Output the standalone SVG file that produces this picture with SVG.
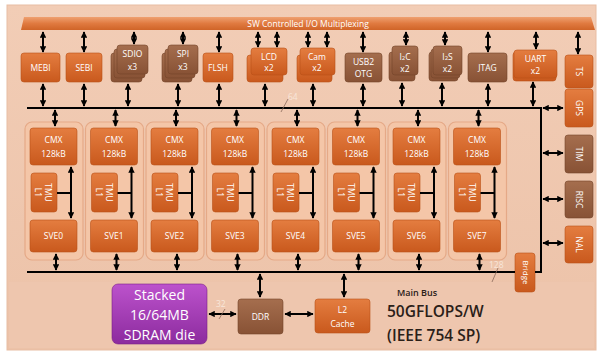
<svg xmlns="http://www.w3.org/2000/svg" width="602" height="355" viewBox="0 0 602 355">
<defs>
<linearGradient id="gO" x1="0" y1="0" x2="0" y2="1"><stop offset="0" stop-color="#E47D40"/><stop offset="1" stop-color="#C9591D"/></linearGradient>
<linearGradient id="gB" x1="0" y1="0" x2="0" y2="1"><stop offset="0" stop-color="#A56E4E"/><stop offset="1" stop-color="#885235"/></linearGradient>
<linearGradient id="gP" x1="0" y1="0" x2="0" y2="1"><stop offset="0" stop-color="#BC52CC"/><stop offset="1" stop-color="#8C2B9E"/></linearGradient>
<linearGradient id="gBan" x1="0" y1="0" x2="0" y2="1"><stop offset="0" stop-color="#EFA070"/><stop offset="0.5" stop-color="#E07A40"/><stop offset="1" stop-color="#D06428"/></linearGradient>
<linearGradient id="gPanel" x1="0" y1="0" x2="0" y2="1"><stop offset="0" stop-color="#F2CDB6"/><stop offset="1" stop-color="#ECC2A8"/></linearGradient>
<marker id="ah" viewBox="0 0 10 10" refX="9" refY="5" markerWidth="3.2" markerHeight="3.2" orient="auto-start-reverse" markerUnits="strokeWidth"><path d="M0,0 L10,5 L0,10 z" fill="#000"/></marker>
</defs>
<style>
.o{fill:url(#gO);stroke:#B85018;stroke-width:0.6}
.b{fill:url(#gB);stroke:#74442A;stroke-width:0.6}
.grp{fill:#F4C6A8;stroke:#E5A987;stroke-width:1.2}
.t{font-family:"Open Sans","Liberation Sans",sans-serif;font-size:8.5px;fill:#fff;text-anchor:middle}
.big{font-size:14px}
.sm{font-size:8px}
.w{stroke:#000;stroke-width:2;fill:none}
.a{stroke:#000;stroke-width:2;fill:none;marker-start:url(#ah);marker-end:url(#ah)}
.thin{stroke:#8A6A5A;stroke-width:0.8;fill:none}
.lt{font-family:"Open Sans","Liberation Sans",sans-serif;font-size:8.5px;fill:#F8E6DA}
.dk{font-family:"Open Sans","Liberation Sans",sans-serif;font-weight:600;fill:#2A2018}
</style>
<rect x="0" y="0" width="602" height="355" fill="#fff"/>
<rect x="7" y="5" width="589" height="345" fill="url(#gPanel)" stroke="#E8BDA3" stroke-width="1"/>
<rect x="9" y="282" width="585" height="66" fill="#EEC6AE"/>

<g id="banner">
<path d="M24,17 L591,17 L595,30 L21,30 Z" fill="url(#gBan)"/>
<text class="t" x="308" y="27">SW Controlled I/O Multiplexing</text>
</g>

<g id="mebi"><rect class="o" x="21" y="53" width="39" height="29" rx="3"/><text class="t" x="40.5" y="71">MEBI</text></g>
<g id="sebi"><rect class="o" x="66" y="53" width="36" height="29" rx="3"/><text class="t" x="84" y="71">SEBI</text></g>
<g id="sdio"><rect class="b" x="111" y="53" width="31" height="29" rx="3"/><rect class="b" x="114" y="49" width="31" height="29" rx="3"/><rect class="b" x="117" y="45" width="31" height="29" rx="3"/><text class="t" x="132.5" y="57">SDIO</text><text class="t" x="132.5" y="70">x3</text></g>
<g id="spi"><rect class="b" x="162" y="53" width="30" height="29" rx="3"/><rect class="b" x="165" y="49" width="30" height="29" rx="3"/><rect class="b" x="168" y="45" width="30" height="29" rx="3"/><text class="t" x="183" y="57">SPI</text><text class="t" x="183" y="70">x3</text></g>
<g id="flsh"><rect class="o" x="203" y="53" width="30" height="29" rx="3"/><text class="t" x="218" y="71">FLSH</text></g>
<g id="lcd"><rect class="o" x="247" y="55" width="36" height="27" rx="3"/><rect class="o" x="251" y="48" width="36" height="27" rx="3"/><text class="t" x="269" y="60">LCD</text><text class="t" x="269" y="71">x2</text></g>
<g id="cam"><rect class="o" x="297" y="55" width="35" height="27" rx="3"/><rect class="o" x="300" y="48" width="35" height="27" rx="3"/><text class="t" x="317" y="60">Cam</text><text class="t" x="317" y="71">x2</text></g>
<g id="usb2"><rect class="b" x="345" y="53" width="37" height="29" rx="3"/><text class="t" x="363.5" y="65">USB2</text><text class="t" x="363.5" y="77">OTG</text></g>
<g id="i2c"><rect class="b" x="389" y="52" width="26" height="29" rx="3"/><rect class="b" x="392" y="46" width="26" height="29" rx="3"/><text class="t" x="405" y="60">I<tspan font-size="6">2</tspan>C</text><text class="t" x="405" y="72">x2</text></g>
<g id="i2s"><rect class="b" x="429" y="52" width="29" height="29" rx="3"/><rect class="b" x="431" y="49" width="29" height="29" rx="3"/><rect class="b" x="433" y="46" width="29" height="29" rx="3"/><text class="t" x="447.5" y="60">I<tspan font-size="6">2</tspan>S</text><text class="t" x="447.5" y="72">x2</text></g>
<g id="jtag"><rect class="b" x="468" y="53" width="39" height="29" rx="3"/><text class="t" x="487.5" y="71">JTAG</text></g>
<g id="uart"><rect class="o" x="513" y="52" width="43" height="29" rx="3"/><rect class="o" x="514" y="50" width="43" height="28" rx="3"/><text class="t" x="535.5" y="62">UART</text><text class="t" x="535.5" y="74">x2</text></g>

<g id="ts"><rect class="o" x="565" y="55" width="28" height="33" rx="3"/><text class="t" transform="translate(576,71.5) rotate(90)">TS</text></g>
<g id="gps"><rect class="o" x="565" y="89" width="28" height="38" rx="3"/><text class="t" transform="translate(576,108) rotate(90)">GPS</text></g>
<g id="tim"><rect class="b" x="565" y="135" width="28" height="38" rx="3"/><text class="t" transform="translate(576,154) rotate(90)">TIM</text></g>
<g id="risc"><rect class="b" x="565" y="181" width="28" height="37" rx="3"/><text class="t" transform="translate(576,199.5) rotate(90)">RISC</text></g>
<g id="nal"><rect class="o" x="565" y="226" width="28" height="37" rx="3"/><text class="t" transform="translate(576,244.5) rotate(90)">NAL</text></g>
<g id="bridge"><rect class="o" x="515" y="253" width="20" height="39" rx="3"/><text class="t sm" transform="translate(522.5,272.5) rotate(90)">Bridge</text></g>

<g id="sve0" transform="translate(25,0)"><rect class="grp" x="0" y="122" width="58" height="138" rx="7"/><rect class="o" x="5" y="128" width="47" height="37" rx="3"/><text class="t" x="28.5" y="143">CMX</text><text class="t" x="28.5" y="157">128kB</text><rect class="o" x="6" y="173" width="26" height="39" rx="3"/><text class="t" transform="translate(19,192.5) rotate(90)"><tspan x="0" y="-1">TMU</tspan><tspan x="0" y="9">L1</tspan></text><rect class="o" x="5" y="220" width="47" height="32" rx="3"/><text class="t" x="28.5" y="239">SVE0</text></g>
<g id="sve1" transform="translate(85.5,0)"><rect class="grp" x="0" y="122" width="58" height="138" rx="7"/><rect class="o" x="5" y="128" width="47" height="37" rx="3"/><text class="t" x="28.5" y="143">CMX</text><text class="t" x="28.5" y="157">128kB</text><rect class="o" x="6" y="173" width="26" height="39" rx="3"/><text class="t" transform="translate(19,192.5) rotate(90)"><tspan x="0" y="-1">TMU</tspan><tspan x="0" y="9">L1</tspan></text><rect class="o" x="5" y="220" width="47" height="32" rx="3"/><text class="t" x="28.5" y="239">SVE1</text></g>
<g id="sve2" transform="translate(146,0)"><rect class="grp" x="0" y="122" width="58" height="138" rx="7"/><rect class="o" x="5" y="128" width="47" height="37" rx="3"/><text class="t" x="28.5" y="143">CMX</text><text class="t" x="28.5" y="157">128kB</text><rect class="o" x="6" y="173" width="26" height="39" rx="3"/><text class="t" transform="translate(19,192.5) rotate(90)"><tspan x="0" y="-1">TMU</tspan><tspan x="0" y="9">L1</tspan></text><rect class="o" x="5" y="220" width="47" height="32" rx="3"/><text class="t" x="28.5" y="239">SVE2</text></g>
<g id="sve3" transform="translate(206.5,0)"><rect class="grp" x="0" y="122" width="58" height="138" rx="7"/><rect class="o" x="5" y="128" width="47" height="37" rx="3"/><text class="t" x="28.5" y="143">CMX</text><text class="t" x="28.5" y="157">128kB</text><rect class="o" x="6" y="173" width="26" height="39" rx="3"/><text class="t" transform="translate(19,192.5) rotate(90)"><tspan x="0" y="-1">TMU</tspan><tspan x="0" y="9">L1</tspan></text><rect class="o" x="5" y="220" width="47" height="32" rx="3"/><text class="t" x="28.5" y="239">SVE3</text></g>
<g id="sve4" transform="translate(267,0)"><rect class="grp" x="0" y="122" width="58" height="138" rx="7"/><rect class="o" x="5" y="128" width="47" height="37" rx="3"/><text class="t" x="28.5" y="143">CMX</text><text class="t" x="28.5" y="157">128kB</text><rect class="o" x="6" y="173" width="26" height="39" rx="3"/><text class="t" transform="translate(19,192.5) rotate(90)"><tspan x="0" y="-1">TMU</tspan><tspan x="0" y="9">L1</tspan></text><rect class="o" x="5" y="220" width="47" height="32" rx="3"/><text class="t" x="28.5" y="239">SVE4</text></g>
<g id="sve5" transform="translate(327.5,0)"><rect class="grp" x="0" y="122" width="58" height="138" rx="7"/><rect class="o" x="5" y="128" width="47" height="37" rx="3"/><text class="t" x="28.5" y="143">CMX</text><text class="t" x="28.5" y="157">128kB</text><rect class="o" x="6" y="173" width="26" height="39" rx="3"/><text class="t" transform="translate(19,192.5) rotate(90)"><tspan x="0" y="-1">TMU</tspan><tspan x="0" y="9">L1</tspan></text><rect class="o" x="5" y="220" width="47" height="32" rx="3"/><text class="t" x="28.5" y="239">SVE5</text></g>
<g id="sve6" transform="translate(388,0)"><rect class="grp" x="0" y="122" width="58" height="138" rx="7"/><rect class="o" x="5" y="128" width="47" height="37" rx="3"/><text class="t" x="28.5" y="143">CMX</text><text class="t" x="28.5" y="157">128kB</text><rect class="o" x="6" y="173" width="26" height="39" rx="3"/><text class="t" transform="translate(19,192.5) rotate(90)"><tspan x="0" y="-1">TMU</tspan><tspan x="0" y="9">L1</tspan></text><rect class="o" x="5" y="220" width="47" height="32" rx="3"/><text class="t" x="28.5" y="239">SVE6</text></g>
<g id="sve7" transform="translate(448.5,0)"><rect class="grp" x="0" y="122" width="58" height="138" rx="7"/><rect class="o" x="5" y="128" width="47" height="37" rx="3"/><text class="t" x="28.5" y="143">CMX</text><text class="t" x="28.5" y="157">128kB</text><rect class="o" x="6" y="173" width="26" height="39" rx="3"/><text class="t" transform="translate(19,192.5) rotate(90)"><tspan x="0" y="-1">TMU</tspan><tspan x="0" y="9">L1</tspan></text><rect class="o" x="5" y="220" width="47" height="32" rx="3"/><text class="t" x="28.5" y="239">SVE7</text></g>

<g id="sdram"><rect x="112" y="284" width="95" height="60" rx="6" fill="url(#gP)" stroke="#7A2088" stroke-width="0.6"/><text class="t big" x="159.5" y="300">Stacked</text><text class="t big" x="159.5" y="320">16/64MB</text><text class="t big" x="159.5" y="340">SDRAM die</text></g>
<g id="ddr"><rect class="b" x="238" y="299" width="45" height="35" rx="3"/><text class="t" x="260.5" y="320">DDR</text></g>
<g id="l2"><rect class="o" x="315" y="299" width="55" height="34" rx="3"/><text class="t" x="342.5" y="313">L2</text><text class="t" x="342.5" y="327">Cache</text></g>

<g id="connectors">
<line class="w" x1="27" y1="108" x2="541" y2="108"/>
<line class="w" x1="541" y1="107" x2="541" y2="273"/>
<line class="w" x1="27" y1="272" x2="515" y2="272"/>
<line class="w" x1="535" y1="272" x2="542" y2="272"/>
<line class="a" x1="43" y1="32" x2="43" y2="52"/>
<line class="a" x1="84" y1="32" x2="84" y2="52"/>
<line class="a" x1="134" y1="32" x2="134" y2="44"/>
<line class="a" x1="183" y1="32" x2="183" y2="44"/>
<line class="a" x1="219" y1="32" x2="219" y2="52"/>
<line class="a" x1="258" y1="32" x2="258" y2="47"/>
<line class="a" x1="277" y1="32" x2="277" y2="47"/>
<line class="a" x1="308" y1="32" x2="308" y2="47"/>
<line class="a" x1="327" y1="32" x2="327" y2="47"/>
<line class="a" x1="363" y1="32" x2="363" y2="52"/>
<line class="a" x1="406" y1="32" x2="406" y2="45"/>
<line class="a" x1="445" y1="32" x2="445" y2="45"/>
<line class="a" x1="488" y1="32" x2="488" y2="52"/>
<line class="a" x1="536" y1="32" x2="536" y2="49"/>
<line class="a" x1="578" y1="32" x2="578" y2="54"/>
<line class="a" x1="43" y1="84" x2="43" y2="106"/>
<line class="a" x1="84" y1="84" x2="84" y2="106"/>
<line class="a" x1="128" y1="84" x2="128" y2="106"/>
<line class="a" x1="178" y1="84" x2="178" y2="106"/>
<line class="a" x1="219" y1="84" x2="219" y2="106"/>
<line class="a" x1="265" y1="84" x2="265" y2="106"/>
<line class="a" x1="313" y1="84" x2="313" y2="106"/>
<line class="a" x1="363" y1="84" x2="363" y2="106"/>
<line class="a" x1="402" y1="83" x2="402" y2="106"/>
<line class="a" x1="442" y1="83" x2="442" y2="106"/>
<line class="a" x1="488" y1="84" x2="488" y2="106"/>
<line class="a" x1="533" y1="82" x2="533" y2="106"/>
<line class="a" x1="543" y1="108" x2="563" y2="108"/>
<line class="a" x1="543" y1="153" x2="563" y2="153"/>
<line class="a" x1="543" y1="199" x2="563" y2="199"/>
<line class="a" x1="543" y1="243" x2="563" y2="243"/>
<g id="sve-links">
<line class="a" x1="55" y1="110" x2="55" y2="126"/><line class="a" x1="71" y1="167" x2="71" y2="218"/><line class="w" x1="57" y1="193" x2="71" y2="193"/><line class="a" x1="56" y1="254" x2="56" y2="270"/>
<line class="a" x1="115.5" y1="110" x2="115.5" y2="126"/><line class="a" x1="131.5" y1="167" x2="131.5" y2="218"/><line class="w" x1="117.5" y1="193" x2="131.5" y2="193"/><line class="a" x1="116.5" y1="254" x2="116.5" y2="270"/>
<line class="a" x1="176" y1="110" x2="176" y2="126"/><line class="a" x1="192" y1="167" x2="192" y2="218"/><line class="w" x1="178" y1="193" x2="192" y2="193"/><line class="a" x1="177" y1="254" x2="177" y2="270"/>
<line class="a" x1="236.5" y1="110" x2="236.5" y2="126"/><line class="a" x1="252.5" y1="167" x2="252.5" y2="218"/><line class="w" x1="238.5" y1="193" x2="252.5" y2="193"/><line class="a" x1="237.5" y1="254" x2="237.5" y2="270"/>
<line class="a" x1="297" y1="110" x2="297" y2="126"/><line class="a" x1="313" y1="167" x2="313" y2="218"/><line class="w" x1="299" y1="193" x2="313" y2="193"/><line class="a" x1="298" y1="254" x2="298" y2="270"/>
<line class="a" x1="357.5" y1="110" x2="357.5" y2="126"/><line class="a" x1="373.5" y1="167" x2="373.5" y2="218"/><line class="w" x1="359.5" y1="193" x2="373.5" y2="193"/><line class="a" x1="358.5" y1="254" x2="358.5" y2="270"/>
<line class="a" x1="418" y1="110" x2="418" y2="126"/><line class="a" x1="434" y1="167" x2="434" y2="218"/><line class="w" x1="420" y1="193" x2="434" y2="193"/><line class="a" x1="419" y1="254" x2="419" y2="270"/>
<line class="a" x1="478.5" y1="110" x2="478.5" y2="126"/><line class="a" x1="494.5" y1="167" x2="494.5" y2="218"/><line class="w" x1="480.5" y1="193" x2="494.5" y2="193"/><line class="a" x1="479.5" y1="254" x2="479.5" y2="270"/>
</g>
<line class="a" x1="260" y1="274" x2="260" y2="297"/>
<line class="a" x1="344" y1="274" x2="344" y2="297"/>
<line class="a" x1="209" y1="314" x2="236" y2="314"/>
<line class="a" x1="285" y1="314" x2="313" y2="314"/>
<line class="thin" x1="281" y1="112" x2="288" y2="99"/>
<line class="thin" x1="492" y1="282" x2="498" y2="268"/>
<line class="thin" x1="219" y1="319" x2="225" y2="309"/>
</g>

<g id="labels">
<text class="lt" x="288" y="100">64</text>
<text class="lt" x="489" y="268">128</text>
<text class="lt" x="216" y="307">32</text>
<text class="dk" x="397" y="296" font-size="9">Main Bus</text>
<text class="dk" x="387" y="317" font-size="15.5">50GFLOPS/W</text>
<text class="dk" x="387" y="341" font-size="15.5">(IEEE 754 SP)</text>
</g>
</svg>
